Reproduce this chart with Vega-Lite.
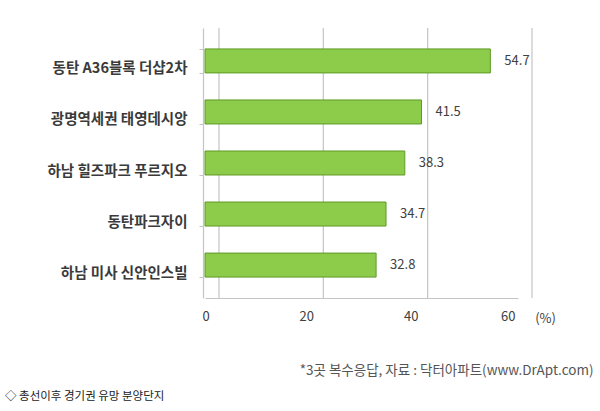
{
  "$schema": "https://vega.github.io/schema/vega-lite/v6.json",
  "width": 313,
  "height": 270,
  "autosize": "none",
  "padding": {"left": 205, "top": 28, "right": 82, "bottom": 113},
  "background": "white",
  "config": {"view": {"stroke": null}, "font": "Noto Sans CJK KR"},
  "title": {
    "text": "◇ 총선이후 경기권 유망 분양단지",
    "orient": "bottom",
    "anchor": "start",
    "frame": "group",
    "dx": -200,
    "offset": 14,
    "fontSize": 11.5,
    "fontWeight": "normal",
    "color": "#222222"
  },
  "datasets": {
    "grid": [{"v": 0}, {"v": 20}, {"v": 40}, {"v": 60}],
    "main": [
      {"name": "동탄 A36블록 더샵2차", "value": 54.7},
      {"name": "광명역세권 태영데시앙", "value": 41.5},
      {"name": "하남 힐즈파크 푸르지오", "value": 38.3},
      {"name": "동탄파크자이", "value": 34.7},
      {"name": "하남 미사 신안인스빌", "value": 32.8}
    ]
  },
  "layer": [
    {
      "data": {"name": "grid"},
      "mark": {"type": "rule", "xOffset": 14, "color": "#c4c4c4", "strokeWidth": 1.2},
      "encoding": {
        "x": {
          "field": "v",
          "type": "quantitative",
          "scale": {"domain": [0, 60], "nice": false},
          "axis": {
            "values": [0, 20, 40, 60],
            "grid": false,
            "ticks": false,
            "domainColor": "#c4c4c4",
            "domainWidth": 1.2,
            "labelPadding": 12,
            "labelOffset": -3,
            "labelFontSize": 13,
            "labelColor": "#404040",
            "title": "(%)",
            "titleFontSize": 13,
            "titleFontWeight": "normal",
            "titleColor": "#404040",
            "titleX": 340,
            "titleY": 20,
            "titleBaseline": "middle"
          }
        }
      }
    },
    {
      "data": {"name": "main"},
      "mark": {"type": "bar", "color": "#8dcb4b", "stroke": "#5e9a26", "strokeWidth": 1},
      "encoding": {
        "y": {
          "field": "name",
          "type": "nominal",
          "sort": null,
          "scale": {"paddingInner": 0.53, "paddingOuter": 0.41},
          "axis": {
            "offset": 2,
            "domainColor": "#c4c4c4",
            "domainWidth": 1.2,
            "tickBand": "extent",
            "tickColor": "#c4c4c4",
            "tickSize": 4,
            "labelPadding": 12,
            "labelOffset": 8,
            "labelFontSize": 14.5,
            "labelFontWeight": "bold",
            "labelColor": "#3a3a3a",
            "labelLimit": 300,
            "title": "*3곳 복수응답,  자료 : 닥터아파트(www.DrApt.com)",
            "titleAngle": 0,
            "titleAlign": "right",
            "titleBaseline": "middle",
            "titleX": 390,
            "titleY": 342,
            "titleFontSize": 13.5,
            "titleFontWeight": "normal",
            "titleColor": "#555555"
          }
        },
        "x": {"field": "value", "type": "quantitative"}
      }
    },
    {
      "data": {"name": "main"},
      "mark": {"type": "text", "align": "left", "dx": 14, "fontSize": 13, "color": "#404040"},
      "encoding": {
        "y": {"field": "name", "type": "nominal", "sort": null},
        "x": {"field": "value", "type": "quantitative"},
        "text": {"field": "value", "type": "quantitative", "format": ".1f"}
      }
    }
  ]
}
